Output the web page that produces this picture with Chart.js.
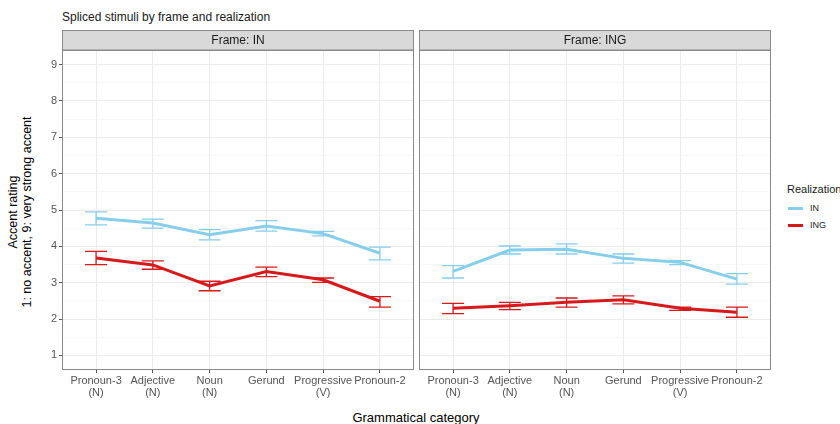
<!DOCTYPE html>
<html>
<head>
<meta charset="utf-8">
<script src="https://cdn.jsdelivr.net/npm/chart.js@4"></script>
<style>
    body { margin: 0; background: #fff; font-family: "Liberation Sans", Arial, sans-serif; }
    #wrap { position: relative; width: 840px; height: 424px; overflow: hidden; }
    canvas { position: absolute; top: 0; }
    .txt { position: absolute; white-space: nowrap; color: #000; }
</style>
</head>
<body>
<div id="wrap">
    <div class="txt" style="left:62px; top:10px; font-size:12px; color:#1a1a1a;">Spliced stimuli by frame and realization</div>
    <div class="txt" style="left:-80px; top:198px; width:200px; font-size:12.5px; line-height:14px; text-align:center; transform:rotate(-90deg);">Accent rating<br>1: no accent, 9: very strong accent</div>
    <div class="txt" style="left:316px; top:410px; width:200px; text-align:center; font-size:13px;">Grammatical category</div>

    <div class="txt" style="left:787px; top:183px; font-size:11px; color:#1a1a1a;">Realization</div>
    <div style="position:absolute; left:788px; top:207px; width:15px; height:3px; background:#87CEEB;"></div>
    <div class="txt" style="left:810px; top:203px; font-size:9px; color:#1a1a1a;">IN</div>
    <div style="position:absolute; left:788px; top:224px; width:15px; height:3px; background:#D7191C;"></div>
    <div class="txt" style="left:810px; top:220px; font-size:9px; color:#1a1a1a;">ING</div>

    <canvas id="leftChart" width="416" height="424" style="left:0px;"></canvas>
    <canvas id="rightChart" width="424" height="424" style="left:416px;"></canvas>
</div>

<script>
// ==================================================
// 1. DATA
// ==================================================
const categories = [
    ['Pronoun-3', '(N)'],
    ['Adjective', '(N)'],
    ['Noun', '(N)'],
    'Gerund',
    ['Progressive', '(V)'],
    'Pronoun-2'
];
const yTicks = [1, 2, 3, 4, 5, 6, 7, 8, 9];

// Frame: IN
const frameInRealIn     = [4.77, 4.64, 4.32, 4.56, 4.35, 3.81];
const frameInRealInLo   = [4.59, 4.50, 4.18, 4.42, 4.29, 3.63];
const frameInRealInHi   = [4.95, 4.75, 4.46, 4.71, 4.41, 3.98];
const frameInRealIng    = [3.68, 3.49, 2.91, 3.31, 3.08, 2.49];
const frameInRealIngLo  = [3.50, 3.37, 2.78, 3.17, 3.01, 2.33];
const frameInRealIngHi  = [3.86, 3.60, 3.04, 3.43, 3.13, 2.62];

// Frame: ING
const frameIngRealIn    = [3.31, 3.90, 3.92, 3.67, 3.56, 3.10];
const frameIngRealInLo  = [3.13, 3.79, 3.79, 3.54, 3.50, 2.96];
const frameIngRealInHi  = [3.47, 4.01, 4.07, 3.79, 3.61, 3.25];
const frameIngRealIng   = [2.30, 2.37, 2.46, 2.53, 2.30, 2.19];
const frameIngRealIngLo = [2.15, 2.26, 2.33, 2.42, 2.24, 2.05];
const frameIngRealIngHi = [2.43, 2.46, 2.58, 2.64, 2.33, 2.33];

const COLOR_IN  = '#87CEEB';
const COLOR_ING = '#D7191C';
const FONT = '"Liberation Sans", Arial, sans-serif';

// ==================================================
// 2. PLUGIN: STRIP, PANEL BORDER, ERROR BARS
// ==================================================
const facetPlugin = {
    id: 'facet',
    beforeDraw(chart, args, opts) {
        const { ctx, chartArea: a } = chart;
        ctx.save();
        ctx.fillStyle = '#d9d9d9';
        ctx.fillRect(a.left, a.top - 20, a.right - a.left, 20);
        ctx.strokeStyle = '#8a8a8a';
        ctx.lineWidth = 1;
        ctx.strokeRect(a.left + 0.5, a.top - 19.5, a.right - a.left - 1, 19.5);
        ctx.fillStyle = '#1a1a1a';
        ctx.font = '12px ' + FONT;
        ctx.textAlign = 'center';
        ctx.textBaseline = 'middle';
        ctx.fillText(opts.label, (a.left + a.right) / 2, a.top - 9.5);
        ctx.restore();
    },
    beforeDatasetsDraw(chart) {
        const { ctx, scales } = chart;
        ctx.save();
        chart.data.datasets.forEach(ds => {
            ctx.strokeStyle = ds.borderColor;
            ctx.lineWidth = 1.3;
            ds.data.forEach((p, i) => {
                const x = scales.x.getPixelForValue(p.x);
                const yLo = scales.y.getPixelForValue(ds.errLow[i]);
                const yHi = scales.y.getPixelForValue(ds.errHigh[i]);
                ctx.beginPath();
                ctx.moveTo(x, yLo); ctx.lineTo(x, yHi);
                ctx.moveTo(x - 11, yLo); ctx.lineTo(x + 11, yLo);
                ctx.moveTo(x - 11, yHi); ctx.lineTo(x + 11, yHi);
                ctx.stroke();
            });
        });
        ctx.restore();
    },
    afterDraw(chart) {
        const { ctx, chartArea: a } = chart;
        ctx.save();
        ctx.strokeStyle = '#8a8a8a';
        ctx.lineWidth = 1;
        ctx.strokeRect(a.left + 0.5, a.top + 0.5, a.right - a.left - 1, a.bottom - a.top - 1);
        ctx.restore();
    }
};

// ==================================================
// 3. CHART BUILDER
// ==================================================
function toPoints(arr) {
    return arr.map((v, i) => ({ x: i + 1, y: v }));
}

function lineSet(label, values, lo, hi, color) {
    return {
        label: label,
        data: toPoints(values),
        errLow: lo,
        errHigh: hi,
        borderColor: color,
        backgroundColor: color,
        borderWidth: 3,
        borderCapStyle: 'butt',
        pointRadius: 0,
        tension: 0
    };
}

function buildPanel(canvasId, frameLabel, inVals, ingVals, showY, padding) {
    const isMajor = v => yTicks.includes(v);
    new Chart(document.getElementById(canvasId), {
        type: 'line',
        data: {
            datasets: [
                lineSet('IN',  inVals[0],  inVals[1],  inVals[2],  COLOR_IN),
                lineSet('ING', ingVals[0], ingVals[1], ingVals[2], COLOR_ING)
            ]
        },
        options: {
            responsive: false,
            animation: false,
            layout: { padding: padding },
            plugins: {
                legend: { display: false },
                tooltip: { enabled: false },
                facet: { label: frameLabel }
            },
            scales: {
                x: {
                    type: 'linear',
                    min: 0.4,
                    max: 6.6,
                    border: { display: false },
                    grid: {
                        color: '#ebebeb',
                        tickColor: '#555',
                        tickLength: 3
                    },
                    ticks: {
                        stepSize: 1,
                        includeBounds: false,
                        autoSkip: false,
                        maxRotation: 0,
                        padding: 2,
                        color: '#555',
                        font: { family: FONT, size: 11, lineHeight: 1.1 },
                        callback: v => categories[v - 1]
                    },
                    afterFit: s => { s.height = 54; }
                },
                y: {
                    min: 0.6,
                    max: 9.4,
                    border: { display: false },
                    grid: {
                        color: c => isMajor(c.tick.value) ? '#ebebeb' : '#f4f4f4',
                        lineWidth: c => isMajor(c.tick.value) ? 1 : 0.6,
                        tickColor: c => isMajor(c.tick.value) ? '#555' : 'rgba(0,0,0,0)',
                        tickLength: 3,
                        drawTicks: showY
                    },
                    ticks: {
                        display: showY,
                        stepSize: 0.5,
                        includeBounds: false,
                        padding: 2,
                        color: '#555',
                        font: { family: FONT, size: 11 },
                        callback: v => isMajor(v) ? v : ''
                    },
                    afterFit: s => { s.width = showY ? 62 : 0; }
                }
            }
        },
        plugins: [facetPlugin]
    });
}

// ==================================================
// 4. INIT
// ==================================================
buildPanel('leftChart', 'Frame: IN',
    [frameInRealIn, frameInRealInLo, frameInRealInHi],
    [frameInRealIng, frameInRealIngLo, frameInRealIngHi],
    true, { left: 0, top: 50, right: 2, bottom: 0 });

buildPanel('rightChart', 'Frame: ING',
    [frameIngRealIn, frameIngRealInLo, frameIngRealInHi],
    [frameIngRealIng, frameIngRealIngLo, frameIngRealIngHi],
    false, { left: 3, top: 50, right: 69, bottom: 0 });
</script>
</body>
</html>
